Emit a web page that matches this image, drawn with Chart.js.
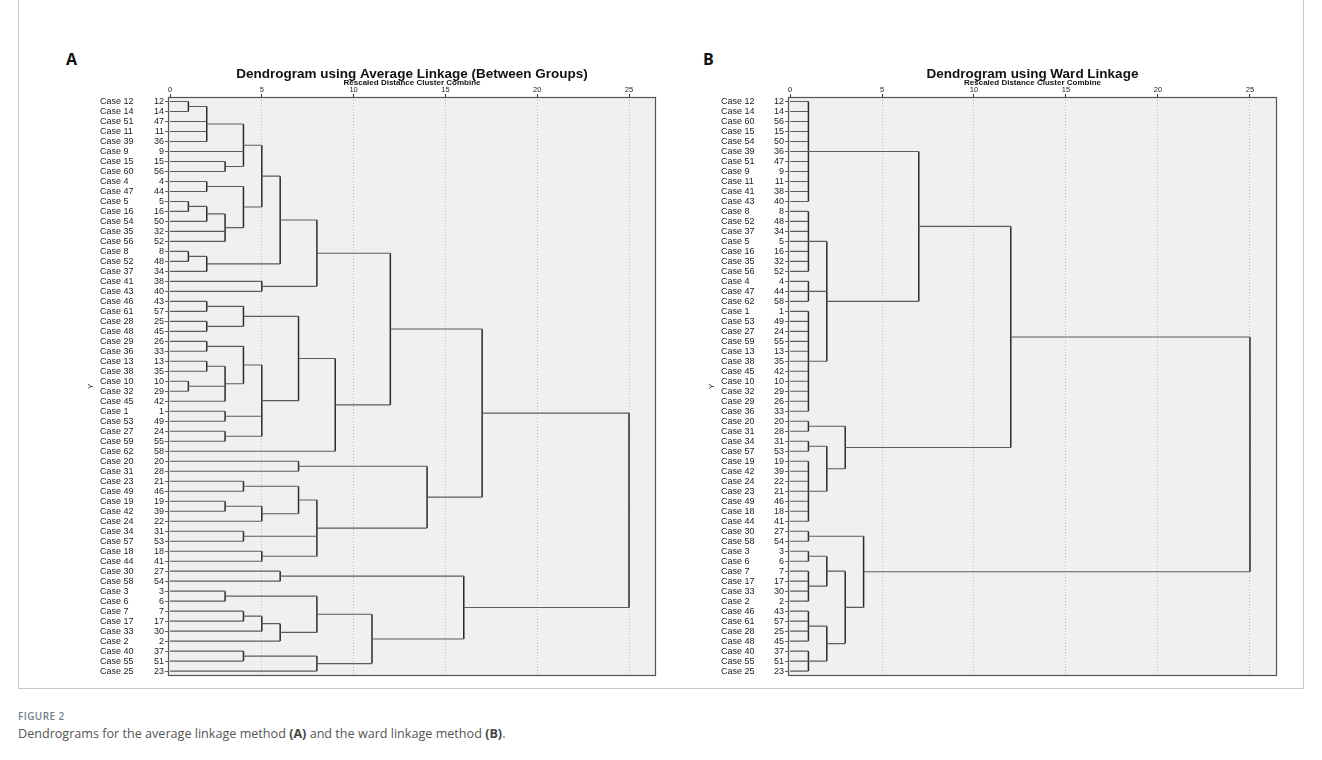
<!DOCTYPE html>
<html><head><meta charset="utf-8">
<script src="https://cdn.jsdelivr.net/npm/chart.js@4.4.0/dist/chart.umd.min.js"></script>
<style>
html,body{margin:0;padding:0;background:#fff;width:1322px;height:760px;overflow:hidden;}
.frame{position:absolute;left:18px;top:-1px;width:1286px;height:690px;border:1px solid #c8c8c8;border-top:none;box-sizing:border-box;}
.wrap{position:absolute;}
.tag{position:absolute;font:bold 16px/16px "Open Sans",sans-serif;color:#111;}
.fig{position:absolute;left:18px;top:710px;font:600 10px/12px "Open Sans",sans-serif;color:#6f7f8f;letter-spacing:0.4px;}
.cap{position:absolute;left:18px;top:726px;font:12.6px/16px "Open Sans",sans-serif;color:#555;}
.cap b{color:#444;}
</style></head>
<body>
<div class="frame"></div>
<div class="tag" style="left:66px;top:51px;">A</div>
<div class="tag" style="left:703px;top:51px;">B</div>
<div class="wrap" style="left:80px;top:62px;width:580px;height:620px;"><canvas id="cA" width="580" height="620"></canvas></div>
<div class="wrap" style="left:701px;top:62px;width:579px;height:620px;"><canvas id="cB" width="579" height="620"></canvas></div>
<div class="fig">FIGURE 2</div>
<div class="cap">Dendrograms for the average linkage method <b>(A)</b> and the ward linkage method <b>(B)</b>.</div>
<script>
// ---------- data ----------
const distanceTicks = [0, 5, 10, 15, 20, 25];

const casesA = ["Case 12","Case 14","Case 51","Case 11","Case 39","Case 9","Case 15","Case 60","Case 4","Case 47","Case 5","Case 16","Case 54","Case 35","Case 56","Case 8","Case 52","Case 37","Case 41","Case 43","Case 46","Case 61","Case 28","Case 48","Case 29","Case 36","Case 13","Case 38","Case 10","Case 32","Case 45","Case 1","Case 53","Case 27","Case 59","Case 62","Case 20","Case 31","Case 23","Case 49","Case 19","Case 42","Case 24","Case 34","Case 57","Case 18","Case 44","Case 30","Case 58","Case 3","Case 6","Case 7","Case 17","Case 33","Case 2","Case 40","Case 55","Case 25"];
const idsA = [12,14,47,11,36,9,15,56,4,44,5,16,50,32,52,8,48,34,38,40,43,57,25,45,26,33,13,35,10,29,42,1,49,24,55,58,20,28,21,46,19,39,22,31,53,18,41,27,54,3,6,7,17,30,2,37,51,23];
// each merge: [children (row index or "m#" earlier merge), rescaled distance]
const mergesA = [
  [[0,1],1], [["m0",2,3,4],2], [[6,7],3], [["m1",5,"m2"],4],
  [[8,9],2], [[10,11],1], [["m5",12],2], [["m6",13,14],3],
  [["m4","m7"],4], [["m3","m8"],5], [[15,16],1], [["m10",17],2],
  [["m9","m11"],6], [[18,19],5], [["m12","m13"],8],
  [[20,21],2], [[22,23],2], [["m15","m16"],4],
  [[24,25],2], [[26,27],2], [[28,29],1], [["m19","m20",30],3],
  [["m18","m21"],4], [[31,32],3], [[33,34],3], [["m22","m23","m24"],5],
  [["m17","m25"],7], [["m26",35],9], [["m14","m27"],12],
  [[36,37],7], [[38,39],4], [[40,41],3], [["m31",42],5], [["m30","m32"],7],
  [[43,44],4], [[45,46],5], [["m33","m34","m35"],8], [["m29","m36"],14],
  [["m28","m37"],17],
  [[47,48],6], [[49,50],3], [[51,52],4], [["m41",53],5], [["m42",54],6],
  [["m40","m43"],8], [[55,56],4], [["m45",57],8], [["m44","m46"],11],
  [["m39","m47"],16], [["m38","m48"],25]
];

const casesB = ["Case 12","Case 14","Case 60","Case 15","Case 54","Case 39","Case 51","Case 9","Case 11","Case 41","Case 43","Case 8","Case 52","Case 37","Case 5","Case 16","Case 35","Case 56","Case 4","Case 47","Case 62","Case 1","Case 53","Case 27","Case 59","Case 13","Case 38","Case 45","Case 10","Case 32","Case 29","Case 36","Case 20","Case 31","Case 34","Case 57","Case 19","Case 42","Case 24","Case 23","Case 49","Case 18","Case 44","Case 30","Case 58","Case 3","Case 6","Case 7","Case 17","Case 33","Case 2","Case 46","Case 61","Case 28","Case 48","Case 40","Case 55","Case 25"];
const idsB = [12,14,56,15,50,36,47,9,11,38,40,8,48,34,5,16,32,52,4,44,58,1,49,24,55,13,35,42,10,29,26,33,20,28,31,53,19,39,22,21,46,18,41,27,54,3,6,7,17,30,2,43,57,25,45,37,51,23];
const mergesB = [
  [[0,1,2,3,4,5,6,7,8,9,10],1], [[11,12,13,14,15,16,17],1], [[18,19,20],1],
  [[21,22,23,24,25,26,27,28,29,30,31],1], [["m1","m2","m3"],2], [["m0","m4"],7],
  [[32,33],1], [[34,35],1], [[36,37,38,39,40,41,42],1], [["m7","m8"],2],
  [["m6","m9"],3], [["m5","m10"],12],
  [[43,44],1], [[45,46],1], [[47,48,49,50],1], [["m13","m14"],2],
  [[51,52,53,54],1], [[55,56,57],1], [["m16","m17"],2], [["m15","m18"],3],
  [["m12","m19"],4], [["m11","m20"],25]
];

// ---------- drawing ----------
const F = "'Liberation Sans', Arial, sans-serif";

function treeSegments(n, merges) {
  const nodes = [];
  for (let i = 0; i < n; i++) nodes.push({y: i, h: 0});
  const ref = c => typeof c === 'string' ? nodes[n + parseInt(c.slice(1), 10)] : nodes[c];
  const hor = [], ver = [];
  const gap = {x: NaN, y: NaN};
  merges.forEach(([kids, h]) => {
    const ks = kids.map(ref);
    ks.forEach(k => hor.push({x: k.h, y: k.y}, {x: h, y: k.y}, gap));
    const ys = ks.map(k => k.y);
    const y0 = Math.min(...ys), y1 = Math.max(...ys);
    ver.push({x: h, y: y0}, {x: h, y: y1}, gap);
    nodes.push({y: (y0 + y1) / 2, h});
  });
  return {hor, ver};
}

const panelFrame = {
  id: 'panelFrame',
  beforeDraw(chart) {
    const {ctx, chartArea: a} = chart;
    ctx.save();
    ctx.fillStyle = '#f0f0f0';
    ctx.fillRect(a.left, a.top, a.width, a.height);
    ctx.restore();
  },
  afterDraw(chart) {
    const {ctx, chartArea: a} = chart;
    ctx.save();
    ctx.strokeStyle = '#555';
    ctx.lineWidth = 1.2;
    ctx.strokeRect(Math.round(a.left) + 0.5, Math.round(a.top) + 0.5, Math.round(a.width) - 1, Math.round(a.height) - 1);
    ctx.restore();
  }
};

function makeChart(id, title, cases, ids, merges, w) {
  const n = cases.length;
  const {hor, ver} = treeSegments(n, merges);
  const rows = cases.map((_, i) => i);
  const setRowTicks = ax => { ax.ticks = rows.map(v => ({value: v})); };
  const yBase = () => ({
    type: 'linear', reverse: true, min: -0.45, max: n - 1 + 0.45, position: 'left',
    grid: {display: false}, border: {display: false}
  });
  return new Chart(document.getElementById(id), {
    type: 'line',
    data: {datasets: [
      {data: hor, borderColor: '#5c5c5c', borderWidth: 1.1, pointRadius: 0, spanGaps: false, yAxisID: 'yNum', xAxisID: 'x'},
      {data: ver, borderColor: '#2a2a2a', borderWidth: 1.5, pointRadius: 0, spanGaps: false, yAxisID: 'yNum', xAxisID: 'x'}
    ]},
    options: {
      responsive: false, animation: false, events: [],
      layout: {padding: {top: 0, right: w.right, bottom: 6, left: 0}},
      plugins: {
        legend: {display: false}, tooltip: {enabled: false},
        title: {display: true, text: title, fullSize: false, color: '#111',
          font: {family: F, size: 13.5, weight: 'bold', lineHeight: 0.8}, padding: {top: 6.8, bottom: 0}},
        subtitle: {display: true, text: 'Rescaled Distance Cluster Combine', fullSize: false, color: '#111',
          font: {family: F, size: 8, weight: 'bold', lineHeight: 0.8}, padding: {top: 0, bottom: 0}}
      },
      scales: {
        x: {
          type: 'linear', position: 'top', min: -0.11, max: 26.47,
          afterBuildTicks: ax => { ax.ticks = distanceTicks.map(v => ({value: v})); },
          afterFit: ax => { ax.height = 11; },
          ticks: {font: {family: F, size: 7.5}, color: '#222', padding: 0, maxRotation: 0, autoSkip: false},
          grid: {color: c => (c.tick && c.tick.value === 0) ? 'rgba(0,0,0,0)' : '#bdbdbd',
                 tickColor: '#333', tickLength: 3, lineWidth: 1, drawTicks: true},
          border: {display: false, dash: [1, 2]}
        },
        yT: Object.assign(yBase(), {
          weight: 3, ticks: {display: false},
          title: {display: true, text: 'Y', color: '#222', font: {family: F, size: 8}, padding: {top: 6, bottom: 0}},
          afterFit: ax => { ax.width = w.t; }
        }),
        yCase: Object.assign(yBase(), {
          weight: 2, afterBuildTicks: setRowTicks,
          ticks: {autoSkip: false, crossAlign: 'far', padding: 0, color: '#222',
                  font: {family: F, size: 9}, callback: v => cases[v]},
          afterFit: ax => { ax.width = w.c; }
        }),
        yNum: Object.assign(yBase(), {
          weight: 1, afterBuildTicks: setRowTicks,
          grid: {display: true, drawOnChartArea: false, drawTicks: true, tickLength: 3, tickColor: '#666', color: '#666'},
          ticks: {autoSkip: false, padding: 1, color: '#222',
                  font: {family: F, size: 9}, callback: v => ids[v]},
          afterFit: ax => { ax.width = 28; }
        })
      }
    },
    plugins: [panelFrame]
  });
}

makeChart('cA', 'Dendrogram using Average Linkage (Between Groups)', casesA, idsA, mergesA, {t: 20, c: 40, right: 4});
makeChart('cB', 'Dendrogram using Ward Linkage', casesB, idsB, mergesB, {t: 20, c: 39, right: 3});
</script>
</body></html>
